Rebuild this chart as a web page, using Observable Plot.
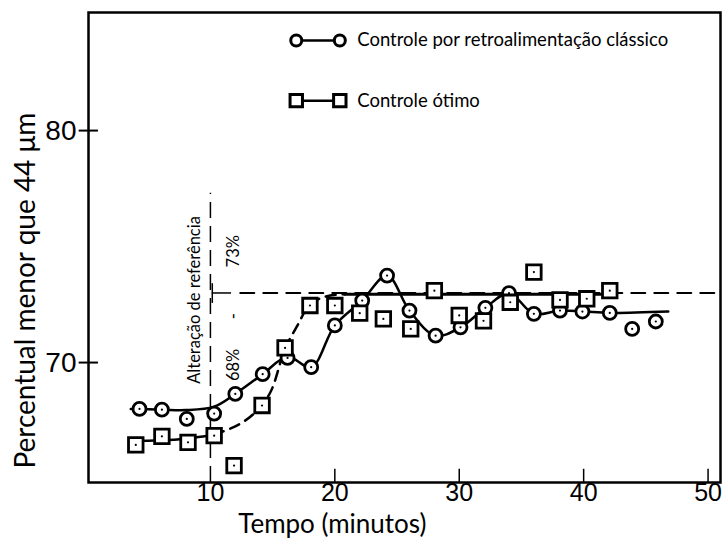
<!DOCTYPE html>
<html><head><meta charset="utf-8">
<script src="https://cdn.jsdelivr.net/npm/d3@7"></script>
<script src="https://cdn.jsdelivr.net/npm/@observablehq/plot@0.6"></script>
<style>body{margin:0;background:#fff}</style>
</head><body><div id="chart"></div>
<script>
// Classic feedback control (circles)
const timeClassic = [4.3,6.1,8.1,10.3,12,14.2,16.2,18.1,20,22.2,24.2,26,28.1,30.1,32.1,34,36,38.1,39.9,42.1,43.9,45.8];
const valClassic  = [68.0,67.97,67.57,67.8,68.65,69.5,70.2,69.8,71.6,72.67,73.75,72.24,71.16,71.52,72.36,72.99,72.1,72.24,72.2,72.14,71.45,71.77];
// Optimal control (squares)
const timeOptimal = [4,6.1,8.2,10.3,11.9,14.15,16,18,20,22,23.9,26.1,28,30,31.95,34.1,36,38.1,40.25,42.1];
const valOptimal  = [66.45,66.82,66.56,66.85,65.56,68.15,70.63,72.46,72.46,72.13,71.88,71.45,73.1,72.03,71.8,72.6,73.9,72.7,72.75,73.1];
// Hand-drawn fitted curves
const fitClassicT = [3.6,6.1,8,10.3,12,14.2,16.2,18.1,20,22.2,24.2,26,28.1,30.1,32.1,34,36,38.1,40,42.1,46.8];
const fitClassicV = [68.0,67.97,67.95,68.1,68.65,69.5,70.25,69.8,71.6,72.67,73.75,72.24,71.16,71.52,72.36,72.99,72.1,72.24,72.2,72.14,72.2];
const fitOptStartT = [3.5,6,8,9.2,10.3];
const fitOptStartV = [66.62,66.65,66.72,66.8,66.9];
const fitOptRiseT = [10.3,12,13.5,14.8,16,17,18,19.3,20.8];
const fitOptRiseV = [66.9,67.25,67.8,68.7,70.6,71.6,72.5,72.85,72.95];
const fitOptFlatT = [20.8,42.1];
const fitOptFlatV = [72.95,72.95];
// Setpoint
const setpointT = [12.4,51];
const setpointV = [73,73];
const stepTime = 10;
const stepRange = [64.83,77.3];
const xTicks = [10,20,30,40,50];
const yTicks = [70,80];
const legendLabels = ["Controle por retroalimentação clássico","Controle ótimo"];

const classic = timeClassic.map((t,i)=>({t, v: valClassic[i]}));
const optimal = timeOptimal.map((t,i)=>({t, v: valOptimal[i]}));
const zip = (T,V)=>T.map((t,i)=>({t, v: V[i]}));

const FONT_TICK = "Liberation Sans";
const FONT_TEXT = "Lato";

const chart = Plot.plot({
  width: 722, height: 541,
  marginLeft: 88, marginRight: 2, marginTop: 12, marginBottom: 59,
  style: {background: "#fff", color: "#000"},
  x: {domain: [0.2, 51], ticks: xTicks},
  y: {domain: [64.83, 85.09], ticks: yTicks},
  marks: [
    Plot.axisX({ticks: xTicks, tickSize: 0, tickPadding: 1, fontSize: 25, fontFamily: FONT_TICK, label: null, tickFormat: d=>String(d)}),
    Plot.axisY({ticks: yTicks, tickSize: 0, tickPadding: 12, fontSize: 28, fontFamily: FONT_TICK, label: null, tickFormat: d=>String(d)}),
    // inward tick marks
    Plot.ruleX(xTicks.filter(d=>d!==stepTime), {x: d=>d, y1: 64.83, y2: 65.4, stroke: "#000", strokeWidth: 1.5}),
    Plot.ruleY(yTicks, {y: d=>d, x1: -0.55, x2: 1.0, stroke: "#000", strokeWidth: 2}),
    // reference change
    Plot.ruleX([stepTime], {x: d=>d, y1: stepRange[0], y2: stepRange[1], stroke: "#000", strokeWidth: 1.5, strokeDasharray: "16,8"}),
    Plot.ruleX([10.15], {x: d=>d, y1: 72.55, y2: 73.4, stroke: "#000", strokeWidth: 1.5}),
    Plot.ruleY([73], {y: d=>d, x1: 10.15, x2: 11.7, stroke: "#000", strokeWidth: 1.5}),
    Plot.line(zip(setpointT, setpointV), {x: "t", y: "v", stroke: "#000", strokeWidth: 2, strokeDasharray: "14,9"}),
    // fitted curves
    Plot.line(zip(fitClassicT, fitClassicV), {x: "t", y: "v", curve: "catmull-rom", stroke: "#000", strokeWidth: 2.5}),
    Plot.line(zip(fitOptStartT, fitOptStartV), {x: "t", y: "v", curve: "catmull-rom", stroke: "#000", strokeWidth: 2.5}),
    Plot.line(zip(fitOptRiseT, fitOptRiseV), {x: "t", y: "v", curve: "catmull-rom", stroke: "#000", strokeWidth: 2.5, strokeDasharray: "10,7"}),
    Plot.line(zip(fitOptFlatT, fitOptFlatV), {x: "t", y: "v", stroke: "#000", strokeWidth: 3}),
    // markers
    Plot.dot(classic, {x: "t", y: "v", symbol: "circle", r: 6.5, fill: "#fff", stroke: "#000", strokeWidth: 2.8}),
    Plot.dot(classic, {x: "t", y: "v", r: 1.1, fill: "#000"}),
    Plot.dot(optimal, {x: "t", y: "v", symbol: "square", r: 8.2, fill: "#fff", stroke: "#000", strokeWidth: 2.8}),
    Plot.dot(optimal, {x: "t", y: "v", r: 1.1, fill: "#000"}),
    // legend
    Plot.line([{t:16.9,v:83.88},{t:20.4,v:83.88}], {x:"t", y:"v", stroke:"#000", strokeWidth:2.5}),
    Plot.dot([{t:16.9,v:83.88},{t:20.4,v:83.88}], {x:"t", y:"v", symbol:"circle", r:5.5, fill:"#fff", stroke:"#000", strokeWidth:3}),
    Plot.line([{t:16.9,v:81.29},{t:20.4,v:81.29}], {x:"t", y:"v", stroke:"#000", strokeWidth:2.5}),
    Plot.dot([{t:16.9,v:81.29},{t:20.4,v:81.29}], {x:"t", y:"v", symbol:"square", r:7, fill:"#fff", stroke:"#000", strokeWidth:3}),
    Plot.text([legendLabels[0]], {x: 21.8, y: 83.88, text: d=>d, textAnchor: "start", fontSize: 18.5, fontFamily: FONT_TEXT, fill: "#000"}),
    Plot.text([legendLabels[1]], {x: 21.8, y: 81.29, text: d=>d, textAnchor: "start", fontSize: 18.5, fontFamily: FONT_TEXT, fill: "#000"}),
    // annotations
    Plot.text(["Alteração de referência"], {x: 8.75, y: 72.7, text: d=>d, rotate: -90, fontSize: 16.5, fontFamily: FONT_TEXT, fill: "#000"}),
    Plot.text(["68%"], {x: 11.85, y: 69.9, text: d=>d, rotate: -90, fontSize: 16.5, fontFamily: FONT_TEXT, fill: "#000"}),
    Plot.text(["-"], {x: 11.85, y: 72.0, text: d=>d, rotate: -90, fontSize: 16.5, fontFamily: FONT_TEXT, fill: "#000"}),
    Plot.text(["73%"], {x: 11.85, y: 74.8, text: d=>d, rotate: -90, fontSize: 16.5, fontFamily: FONT_TEXT, fill: "#000"}),
    // axis titles
    Plot.text(["Tempo (minutos)"], {x: 19.8, frameAnchor: "bottom", lineAnchor: "middle", dy: 42, text: d=>d, fontSize: 26, fontFamily: FONT_TEXT, fill: "#000"}),
    Plot.text(["Percentual menor que 44 μm"], {y: 73.1, frameAnchor: "left", textAnchor: "middle", lineAnchor: "middle", dx: -62, text: d=>d, rotate: -90, fontSize: 28, fontFamily: FONT_TEXT, fill: "#000"}),
    Plot.frame({stroke: "#000", strokeWidth: 2.5})
  ]
});
document.getElementById("chart").appendChild(chart);
</script>
</body></html>
